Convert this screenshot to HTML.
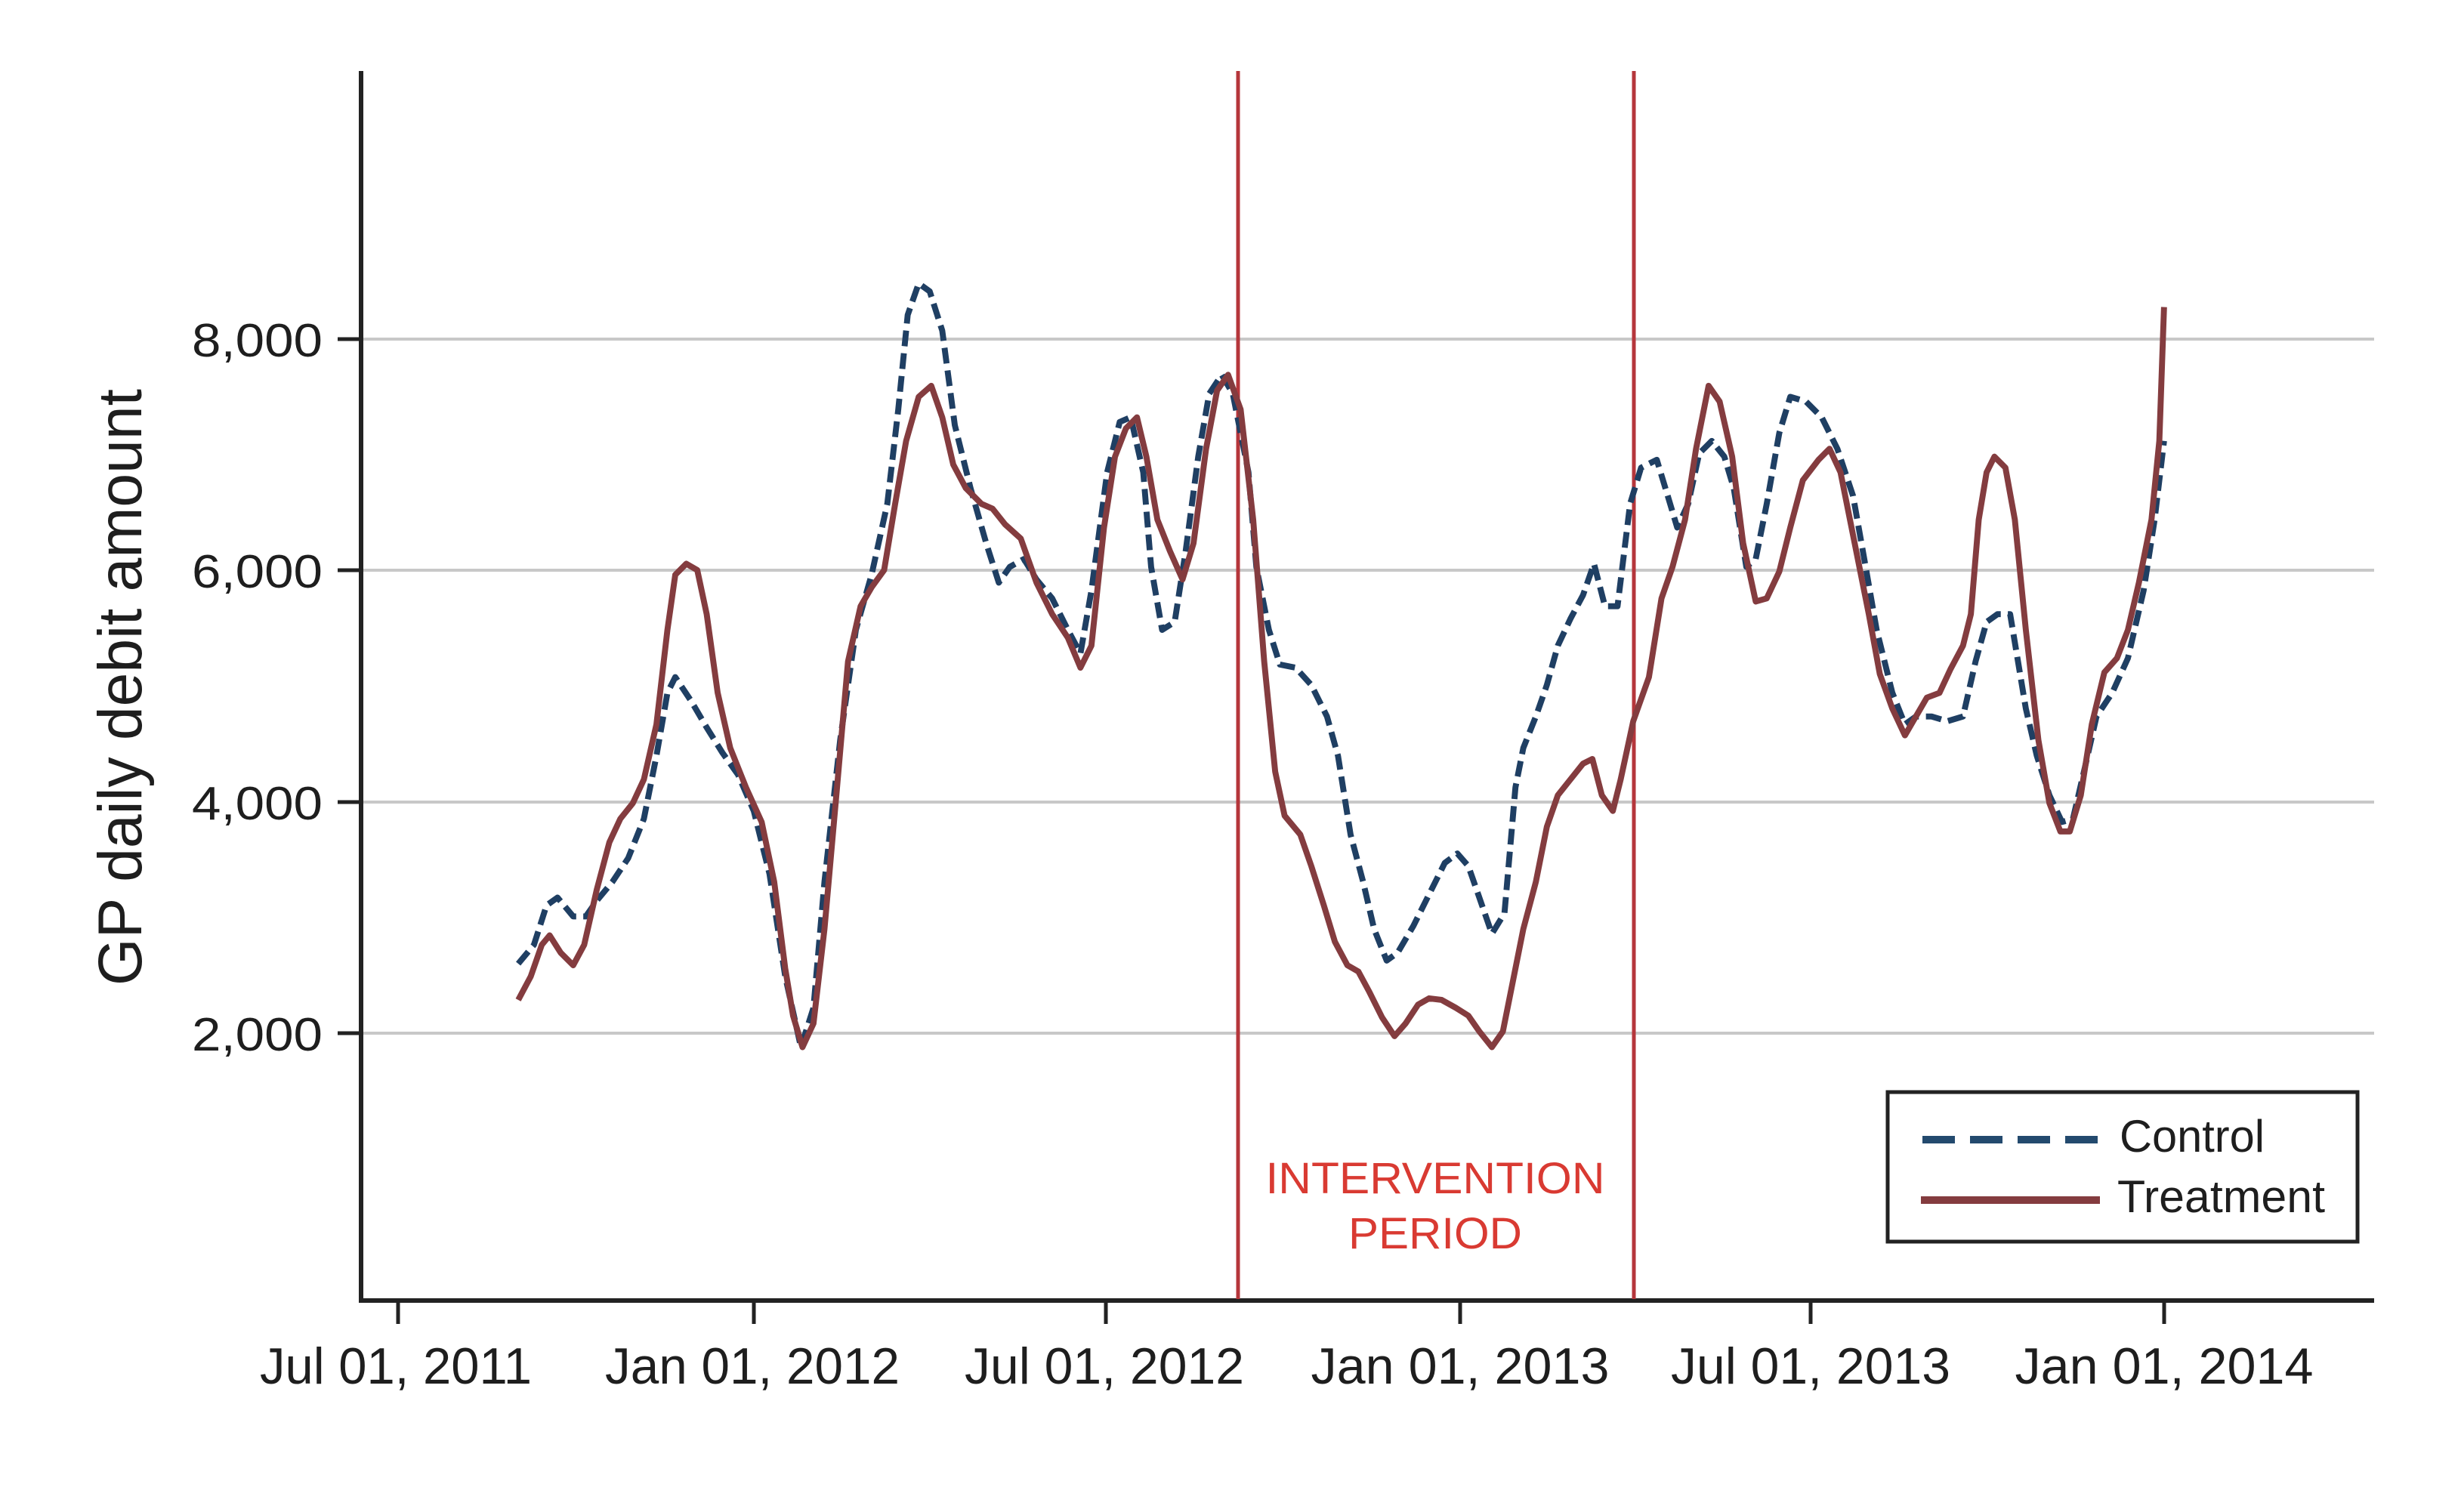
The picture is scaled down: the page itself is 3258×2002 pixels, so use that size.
<!DOCTYPE html>
<html><head><meta charset="utf-8"><style>
html,body{margin:0;padding:0;background:#fff;}
svg{display:block;}
text{font-family:"Liberation Sans",Arial,sans-serif;fill:#1e1e1e;}
</style></head><body>
<svg width="3258" height="2002" viewBox="0 0 3258 2002" xmlns="http://www.w3.org/2000/svg">
<rect width="3258" height="2002" fill="#fff"/>
<g stroke="#c8c8c8" stroke-width="4">
<line x1="480" y1="449" x2="3143" y2="449"/>
<line x1="480" y1="755" x2="3143" y2="755"/>
<line x1="480" y1="1062" x2="3143" y2="1062"/>
<line x1="480" y1="1368" x2="3143" y2="1368"/>
</g>
<g stroke="#222" stroke-width="5">
<line x1="447" y1="449" x2="478" y2="449"/>
<line x1="447" y1="755" x2="478" y2="755"/>
<line x1="447" y1="1062" x2="478" y2="1062"/>
<line x1="447" y1="1368" x2="478" y2="1368"/>
</g>
<g font-size="62" text-anchor="end">
<text x="427" y="472" textLength="173" lengthAdjust="spacingAndGlyphs">8,000</text>
<text x="427" y="778" textLength="173" lengthAdjust="spacingAndGlyphs">6,000</text>
<text x="427" y="1085" textLength="173" lengthAdjust="spacingAndGlyphs">4,000</text>
<text x="427" y="1391" textLength="173" lengthAdjust="spacingAndGlyphs">2,000</text>
</g>
<text transform="translate(187,910) rotate(-90)" font-size="82" text-anchor="middle" textLength="790" lengthAdjust="spacingAndGlyphs">GP daily debit amount</text>
<line x1="478" y1="94" x2="478" y2="1725" stroke="#222" stroke-width="6"/>
<line x1="475" y1="1722" x2="3143" y2="1722" stroke="#222" stroke-width="6"/>
<g stroke="#222" stroke-width="5">
<line x1="527" y1="1722" x2="527" y2="1753"/>
<line x1="998" y1="1722" x2="998" y2="1753"/>
<line x1="1464" y1="1722" x2="1464" y2="1753"/>
<line x1="1933" y1="1722" x2="1933" y2="1753"/>
<line x1="2397" y1="1722" x2="2397" y2="1753"/>
<line x1="2865" y1="1722" x2="2865" y2="1753"/>
</g>
<g font-size="68" text-anchor="middle">
<text x="524" y="1832" textLength="360" lengthAdjust="spacingAndGlyphs">Jul 01, 2011</text>
<text x="996" y="1832" textLength="390" lengthAdjust="spacingAndGlyphs">Jan 01, 2012</text>
<text x="1462" y="1832" textLength="370" lengthAdjust="spacingAndGlyphs">Jul 01, 2012</text>
<text x="1933" y="1832" textLength="395" lengthAdjust="spacingAndGlyphs">Jan 01, 2013</text>
<text x="2397" y="1832" textLength="370" lengthAdjust="spacingAndGlyphs">Jul 01, 2013</text>
<text x="2865" y="1832" textLength="395" lengthAdjust="spacingAndGlyphs">Jan 01, 2014</text>
</g>
<g stroke="#b5363b" stroke-width="5">
<line x1="1639" y1="94" x2="1639" y2="1720"/>
<line x1="2163" y1="94" x2="2163" y2="1720"/>
</g>
<g font-size="58" text-anchor="middle">
<text x="1900" y="1580" textLength="449" lengthAdjust="spacingAndGlyphs" style="fill:#d93a32">INTERVENTION</text>
<text x="1900" y="1653" textLength="230" lengthAdjust="spacingAndGlyphs" style="fill:#d93a32">PERIOD</text>
</g>
<g transform="scale(2.079,2.085)" fill="none" stroke-linejoin="round" stroke-linecap="butt">
<polyline stroke="#1f3f63" stroke-width="3.8" stroke-dasharray="10,4.5" points="330,612 340,600 348,575 355,570 365,582 373,582 380,572 390,560 400,545 410,520 418,480 425,440 430,430 440,445 450,462 460,478 470,492 480,515 490,555 500,620 510,665 518,640 525,560 535,470 545,400 555,365 565,320 572,260 578,200 585,180 592,185 600,210 608,270 618,310 628,345 636,370 643,360 652,355 660,368 670,380 680,400 688,415 695,375 705,300 713,268 720,265 728,300 733,360 740,400 748,395 755,350 763,290 770,250 778,238 785,250 795,300 800,360 808,400 815,422 825,424 835,435 845,455 852,480 860,530 868,560 875,590 883,610 890,605 900,588 910,568 920,548 928,542 935,550 942,570 950,593 958,580 965,500 970,475 978,455 985,435 992,410 1000,393 1008,378 1015,358 1022,385 1030,385 1038,320 1045,297 1055,292 1062,315 1068,335 1075,320 1082,288 1090,280 1098,290 1104,310 1112,360 1118,355 1125,320 1133,275 1140,252 1150,255 1160,265 1170,285 1180,315 1188,360 1195,400 1205,440 1213,460 1220,455 1230,455 1240,458 1250,455 1258,420 1265,395 1272,390 1280,390 1285,420 1290,450 1297,480 1305,505 1313,522 1320,520 1327,490 1335,455 1345,440 1355,418 1365,375 1372,330 1378,280"/>
<polyline stroke="#843c3f" stroke-width="3.8" points="330,635 338,620 345,600 350,594 357,605 365,613 372,600 380,565 388,535 395,520 403,510 410,495 418,460 425,400 430,365 437,358 444,362 450,390 457,440 465,475 475,500 485,522 493,560 500,615 505,645 511,665 518,650 525,590 533,500 540,420 548,385 555,373 563,362 570,320 577,280 585,252 593,245 600,265 607,295 615,310 625,320 632,323 640,333 650,342 660,370 670,390 680,405 688,424 695,410 703,335 710,290 717,272 724,265 730,290 737,330 745,350 753,368 760,345 768,285 775,248 782,238 790,260 798,330 805,420 812,490 818,518 828,530 835,550 843,575 850,598 858,613 865,617 872,630 880,646 888,658 895,650 903,638 910,634 918,635 927,640 935,645 942,655 950,665 957,655 963,625 970,590 978,560 985,525 992,505 1000,495 1008,485 1014,482 1020,505 1027,515 1032,495 1040,458 1050,430 1058,380 1065,360 1073,330 1080,285 1088,245 1095,255 1103,290 1110,345 1118,382 1125,380 1133,363 1140,335 1148,305 1158,292 1165,285 1172,300 1180,340 1190,390 1197,428 1205,450 1213,467 1220,455 1227,443 1235,440 1242,425 1250,410 1255,390 1260,330 1265,300 1270,290 1277,297 1283,330 1290,400 1298,470 1305,510 1312,528 1318,528 1325,505 1332,460 1340,427 1348,418 1355,400 1362,370 1370,330 1375,280 1378,195"/>
</g>
<rect x="2499" y="1446" width="622" height="198" fill="#fff" stroke="#222" stroke-width="5"/>
<line x1="2545" y1="1509" x2="2780" y2="1509" stroke="#234a6e" stroke-width="10" stroke-dasharray="43,20"/>
<line x1="2543" y1="1589" x2="2780" y2="1589" stroke="#843c3f" stroke-width="10"/>
<text x="2806" y="1525" font-size="60" textLength="192" lengthAdjust="spacingAndGlyphs">Control</text>
<text x="2803" y="1605" font-size="60" textLength="275" lengthAdjust="spacingAndGlyphs">Treatment</text>
</svg>
</body></html>
